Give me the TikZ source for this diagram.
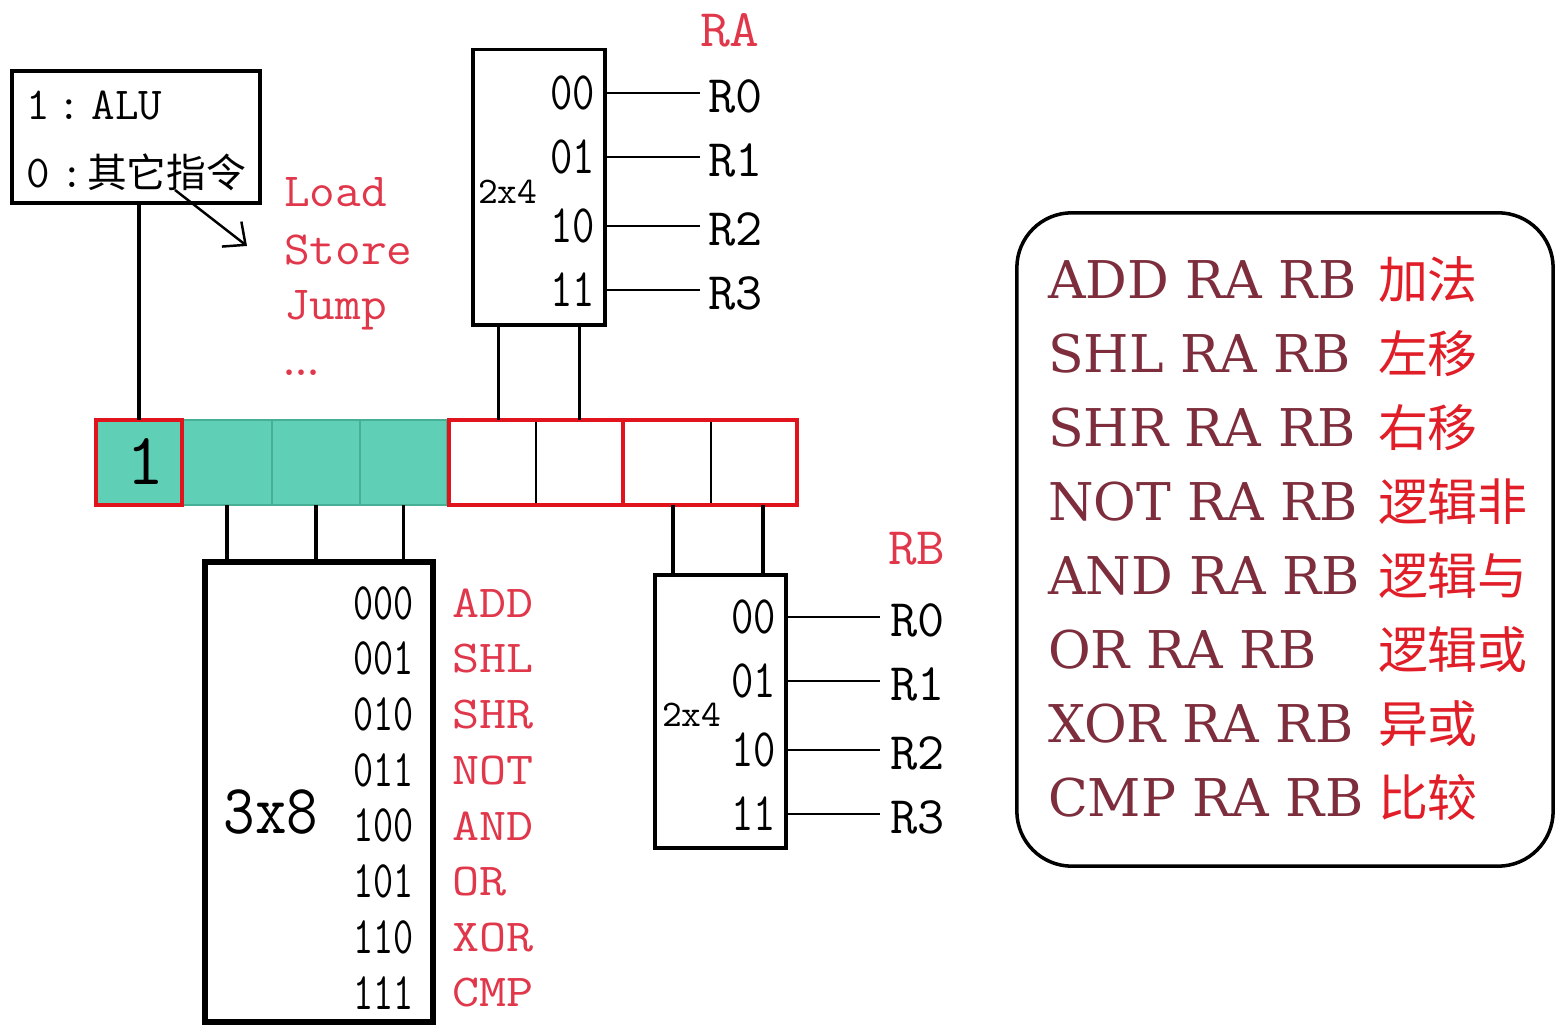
\documentclass[tikz,border=0pt]{standalone}
\usepackage{fontspec}
\usepackage{graphicx}
\newfontfamily\cjk{Noto Sans CJK SC}
\newfontfamily\dserif{DejaVu Serif}
\usetikzlibrary{arrows.meta}
\newcommand\fsz[1]{\fontsize{#1}{#1}\selectfont}
\definecolor{redlbl}{RGB}{225,55,75}
\definecolor{redbox}{RGB}{225,20,30}
\definecolor{maroon}{RGB}{125,45,60}
\definecolor{cjkred}{RGB}{225,30,40}
\definecolor{tealc}{RGB}{95,207,182}
\definecolor{tealdk}{RGB}{70,175,150}
\tikzset{
  mono/.style={font=\ttfamily},
  wire/.style={line width=1.1pt},
  outwire/.style={line width=0.8pt},
  tealcell/.style={fill=tealc, draw=tealdk, line width=0.4pt, minimum height=0.85cm},
  whitecell/.style={fill=white, draw=black, line width=0.5pt, minimum height=0.85cm},
  redframe/.style={draw=redbox, line width=1pt, minimum height=0.85cm},
}
\begin{document}
\begin{tikzpicture}[x=0.01cm,y=-0.01cm, every node/.style={inner sep=0pt, outer sep=0pt}]
\useasboundingbox[fill=white] (0,0) rectangle (1566,1034);

% top-left legend box
\node[draw, line width=1.2pt, minimum width=2.48cm, minimum height=1.32cm] (tl) at (136,137) {};
\node[mono, anchor=base west] (t1) at (26,120) {\fsz{13pt}1\hspace{2.3pt}:\hspace{3pt}ALU};
\node[mono, anchor=base west] (t0) at (26,188) {\fsz{13pt}0\hspace{3pt}:\hspace{1pt}{\cjk\fsz{11.3pt}其它指令}};
\coordinate (a1) at (175,190);
\coordinate (a2) at (247,246);
\draw[line width=0.7pt, -{Straight Barb[length=5pt,width=9pt]}] (a1) -- (a2);

% other instructions
\node[mono, anchor=base west, text=redlbl] (load) at (284,207) {\fsz{13.5pt}\scalebox{1.05}[1]{Load}};
\node[mono, anchor=base west, text=redlbl] (store) at (284,265) {\fsz{13.5pt}\scalebox{1.05}[1]{Store}};
\node[mono, anchor=base west, text=redlbl] (jump) at (284,320) {\fsz{13.5pt}\scalebox{1.05}[1]{Jump}};
\node[anchor=base west, text=redlbl] (dots) at (283,376) {\fsz{11pt}\bfseries ...};

% register bar
\node[tealcell, minimum width=0.90cm] (c2) at (227,462.5) {};
\node[tealcell, minimum width=0.88cm] (c3) at (316,462.5) {};
\node[tealcell, minimum width=0.87cm] (c4) at (403.5,462.5) {};
\node[tealcell, draw=redbox, line width=1pt, minimum width=0.86cm] (c1) at (139,462.5) {};
\node[mono] (one) at (146,462) {\fsz{21pt}1};
\node[whitecell, minimum width=0.87cm] (r1) at (492.5,462.5) {};
\node[whitecell, minimum width=0.87cm] (r2) at (579.5,462.5) {};
\node[whitecell, minimum width=0.88cm] (r3) at (667,462.5) {};
\node[whitecell, minimum width=0.86cm] (r4) at (754,462.5) {};
\node[redframe, minimum width=1.74cm] (fa) at (536,462.5) {};
\node[redframe, minimum width=1.74cm] (fb) at (710,462.5) {};

% RA decoder
\node[draw, line width=0.9pt, minimum width=1.32cm, minimum height=2.75cm] (dA) at (539,187.5) {};
\node[mono, anchor=west] (dAlbl) at (478,192) {\fsz{10.7pt}2x4};
\node[mono, anchor=west, text=redlbl] (RA) at (700,30) {\fsz{15pt}\scalebox{1.1}[1]{RA}};
\foreach \b/\yy [count=\i from 0] in {00/93,01/157,10/226,11/290} {
  \node[mono, anchor=east] (ab\i) at (595,\yy) {\fsz{15.4pt}\scalebox{0.8}[1]{\b}};
  \coordinate (ae\i) at (700,\yy);
  \draw[outwire] (dA.east |- ae\i) -- (ae\i);
  \node[mono, anchor=west] (ar\i) at (708,{\yy+3}) {\fsz{15pt}R\i};
}

% 3x8 decoder
\node[draw, line width=1.7pt, minimum width=2.28cm, minimum height=4.60cm] (d3) at (319,792) {};
\node[mono] (d3lbl) at (271,812) {\fsz{20pt}\scalebox{0.87}[1]{3x8}};
\foreach \b/\o [count=\i] in {000/ADD,001/SHL,010/SHR,011/NOT,100/AND,101/OR,110/XOR,111/CMP} {
  \node[mono, anchor=east] (bb\i) at (414,{547.3+55.7*\i}) {\fsz{15pt}\scalebox{0.74}[1]{\b}};
  \node[mono, anchor=west, text=redlbl] (op\i) at (452,{547.3+55.7*\i}) {\fsz{13pt}\scalebox{1.15}[1]{\o}};
}

% RB decoder
\node[draw, line width=1pt, minimum width=1.31cm, minimum height=2.73cm] (dB) at (720.5,711.5) {};
\node[mono, anchor=west] (dBlbl) at (662,715) {\fsz{10.7pt}2x4};
\node[mono, anchor=west, text=redlbl] (RB) at (888,549) {\fsz{15pt}\scalebox{1.05}[1]{RB}};
\foreach \b/\yy [count=\i from 0] in {00/617,01/681,10/750,11/814} {
  \node[mono, anchor=east] (bbb\i) at (776,\yy) {\fsz{15.4pt}\scalebox{0.8}[1]{\b}};
  \coordinate (be\i) at (880,\yy);
  \draw[outwire] (dB.east |- be\i) -- (be\i);
  \node[mono, anchor=west] (br\i) at (890,{\yy+3}) {\fsz{15pt}R\i};
}

% connectors register <-> decoders
\draw[wire] (tl.south -| c1.north) -- (c1.north);
\draw[wire] ([xshift=0.06cm]r1.north) -- ([xshift=0.06cm]r1.north |- dA.south);
\draw[wire] (r2.north) -- (r2.north |- dA.south);
\draw[wire] (c2.south) -- (c2.south |- d3.north);
\draw[wire] (c3.south) -- (c3.south |- d3.north);
\draw[wire] (c4.south) -- (c4.south |- d3.north);
\draw[wire] ([xshift=0.06cm]r3.south) -- ([xshift=0.06cm]r3.south |- dB.north);
\draw[wire] ([xshift=0.09cm]r4.south) -- ([xshift=0.09cm]r4.south |- dB.north);

% instruction table
\node[draw, line width=1pt, rounded corners=0.55cm, minimum width=5.36cm, minimum height=6.53cm] (tab) at (1285,539.5) {};
\foreach \e/\c [count=\i] in {ADD RA RB/加法,SHL RA RB/左移,SHR RA RB/右移,NOT RA RB/逻辑非,AND RA RB/逻辑与,OR RA RB/逻辑或,XOR RA RB/异或,CMP RA RB/比较} {
  \node[anchor=base west, text=maroon] (ie\i) at (1048,{225+74*\i}) {\dserif\fsz{14.8pt}\e};
  \node[anchor=base west, text=cjkred] (ic\i) at (1378,{225+74*\i}) {\cjk\fsz{14.2pt}\c};
}
\end{tikzpicture}
\end{document}
